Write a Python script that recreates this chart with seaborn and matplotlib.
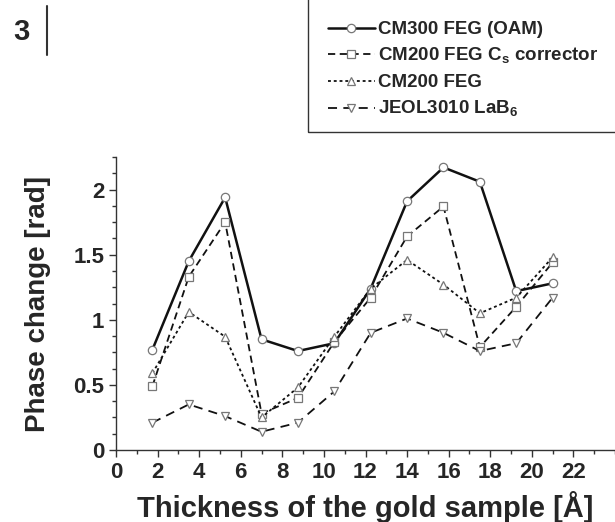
import matplotlib
matplotlib.use('Agg')
import matplotlib.pyplot as plt
from matplotlib.ticker import MultipleLocator, FuncFormatter
from matplotlib.patches import Rectangle
import pandas as pd
import seaborn as sns

# values
thickness = [1.75, 3.5, 5.25, 7.0, 8.75, 10.5, 12.25, 14.0, 15.75, 17.5, 19.25, 21.0]
cm300_oam = [0.77, 1.45, 1.94, 0.85, 0.76, 0.82, 1.24, 1.91, 2.17, 2.06, 1.22, 1.28]
cm200_cs = [0.49, 1.33, 1.75, 0.28, 0.40, 0.83, 1.17, 1.64, 1.87, 0.79, 1.10, 1.44]
cm200_feg = [0.59, 1.06, 0.87, 0.25, 0.48, 0.87, 1.24, 1.46, 1.27, 1.05, 1.17, 1.48]
jeol_lab6 = [0.21, 0.35, 0.26, 0.14, 0.21, 0.45, 0.90, 1.01, 0.90, 0.76, 0.82, 1.17]

series_labels = ['CM300 FEG (OAM)',
                 r'CM200 FEG C$_\mathrm{s}$ corrector',
                 'CM200 FEG',
                 r'JEOL3010 LaB$_\mathrm{6}$']
x_ticks = list(range(0, 23, 2))
y_ticks = [0, 0.5, 1, 1.5, 2]

sns.set_style('ticks')
plt.rcParams['font.family'] = ['Liberation Sans', 'DejaVu Sans']
plt.rcParams['font.weight'] = 'bold'
plt.rcParams['mathtext.fontset'] = 'custom'
plt.rcParams['mathtext.rm'] = 'Liberation Sans:bold'
plt.rcParams['mathtext.bf'] = 'Liberation Sans:bold'

df = pd.DataFrame({'thickness': thickness,
                   series_labels[0]: cm300_oam,
                   series_labels[1]: cm200_cs,
                   series_labels[2]: cm200_feg,
                   series_labels[3]: jeol_lab6})

styles = [
    dict(marker='o', linestyle='-', linewidth=1.8),
    dict(marker='s', linestyle=(0, (4, 2.5)), linewidth=1.3),
    dict(marker='^', linestyle=(0, (1.6, 1.6)), linewidth=1.3),
    dict(marker='v', linestyle=(0, (5, 3.5)), linewidth=1.3),
]

fig = plt.figure(figsize=(6.15, 5.22), dpi=100)
ax = fig.add_axes([116 / 615, 1 - 450 / 522, 1 - 116 / 615, (450 - 157) / 522])

for lab, st in zip(series_labels, styles):
    sns.lineplot(data=df, x='thickness', y=lab, ax=ax, label=lab, color='#111111',
                 markersize=6, markerfacecolor='white', markeredgecolor='#777777',
                 markeredgewidth=0.9, errorbar=None, legend=False, **st)

ax.set_xlim(0, 24)
ax.set_ylim(0, 2.25)
ax.set_xticks(x_ticks)
ax.set_yticks(y_ticks)
ax.xaxis.set_minor_locator(MultipleLocator(1))
ax.yaxis.set_minor_locator(MultipleLocator(0.125))
ax.yaxis.set_major_formatter(FuncFormatter(lambda v, p: '%g' % v))
ax.tick_params(axis='both', which='major', direction='out', length=5, width=1,
               color='#333333', labelsize=16)
ax.tick_params(axis='both', which='minor', direction='out', length=3, width=1,
               color='#333333')
for sp in ['top', 'right']:
    ax.spines[sp].set_visible(False)
for sp in ['left', 'bottom']:
    ax.spines[sp].set_linewidth(1)
    ax.spines[sp].set_color('#333333')

ax.set_xlabel('Thickness of the gold sample [Å]', fontsize=21, fontweight='bold', labelpad=6)
ax.set_ylabel('Phase change [rad]', fontsize=20, fontweight='bold', labelpad=16)

handles, labels = ax.get_legend_handles_labels()
fig.legend(handles, labels, loc='upper left', bbox_to_anchor=(328 / 615, 1 - 21 / 522),
           frameon=False, fontsize=13.5, handlelength=2.5, handletextpad=0.15,
           labelspacing=0.42, borderpad=0, borderaxespad=0)
fig.add_artist(Rectangle((308 / 615, 1 - 132 / 522), 0.6, 0.4, transform=fig.transFigure,
                         fill=False, edgecolor='#333333', linewidth=1, clip_on=False))

# panel number with its separator bar
fig.text(13 / 615, 1 - 32 / 522, '3', fontsize=21, fontweight='bold', va='center', ha='left')
fig.add_artist(plt.Line2D([47 / 615, 47 / 615], [1 - 6 / 522, 1 - 55 / 522],
                          transform=fig.transFigure, color='#333333', linewidth=1.5))

fig.savefig('out.png', dpi=100)
